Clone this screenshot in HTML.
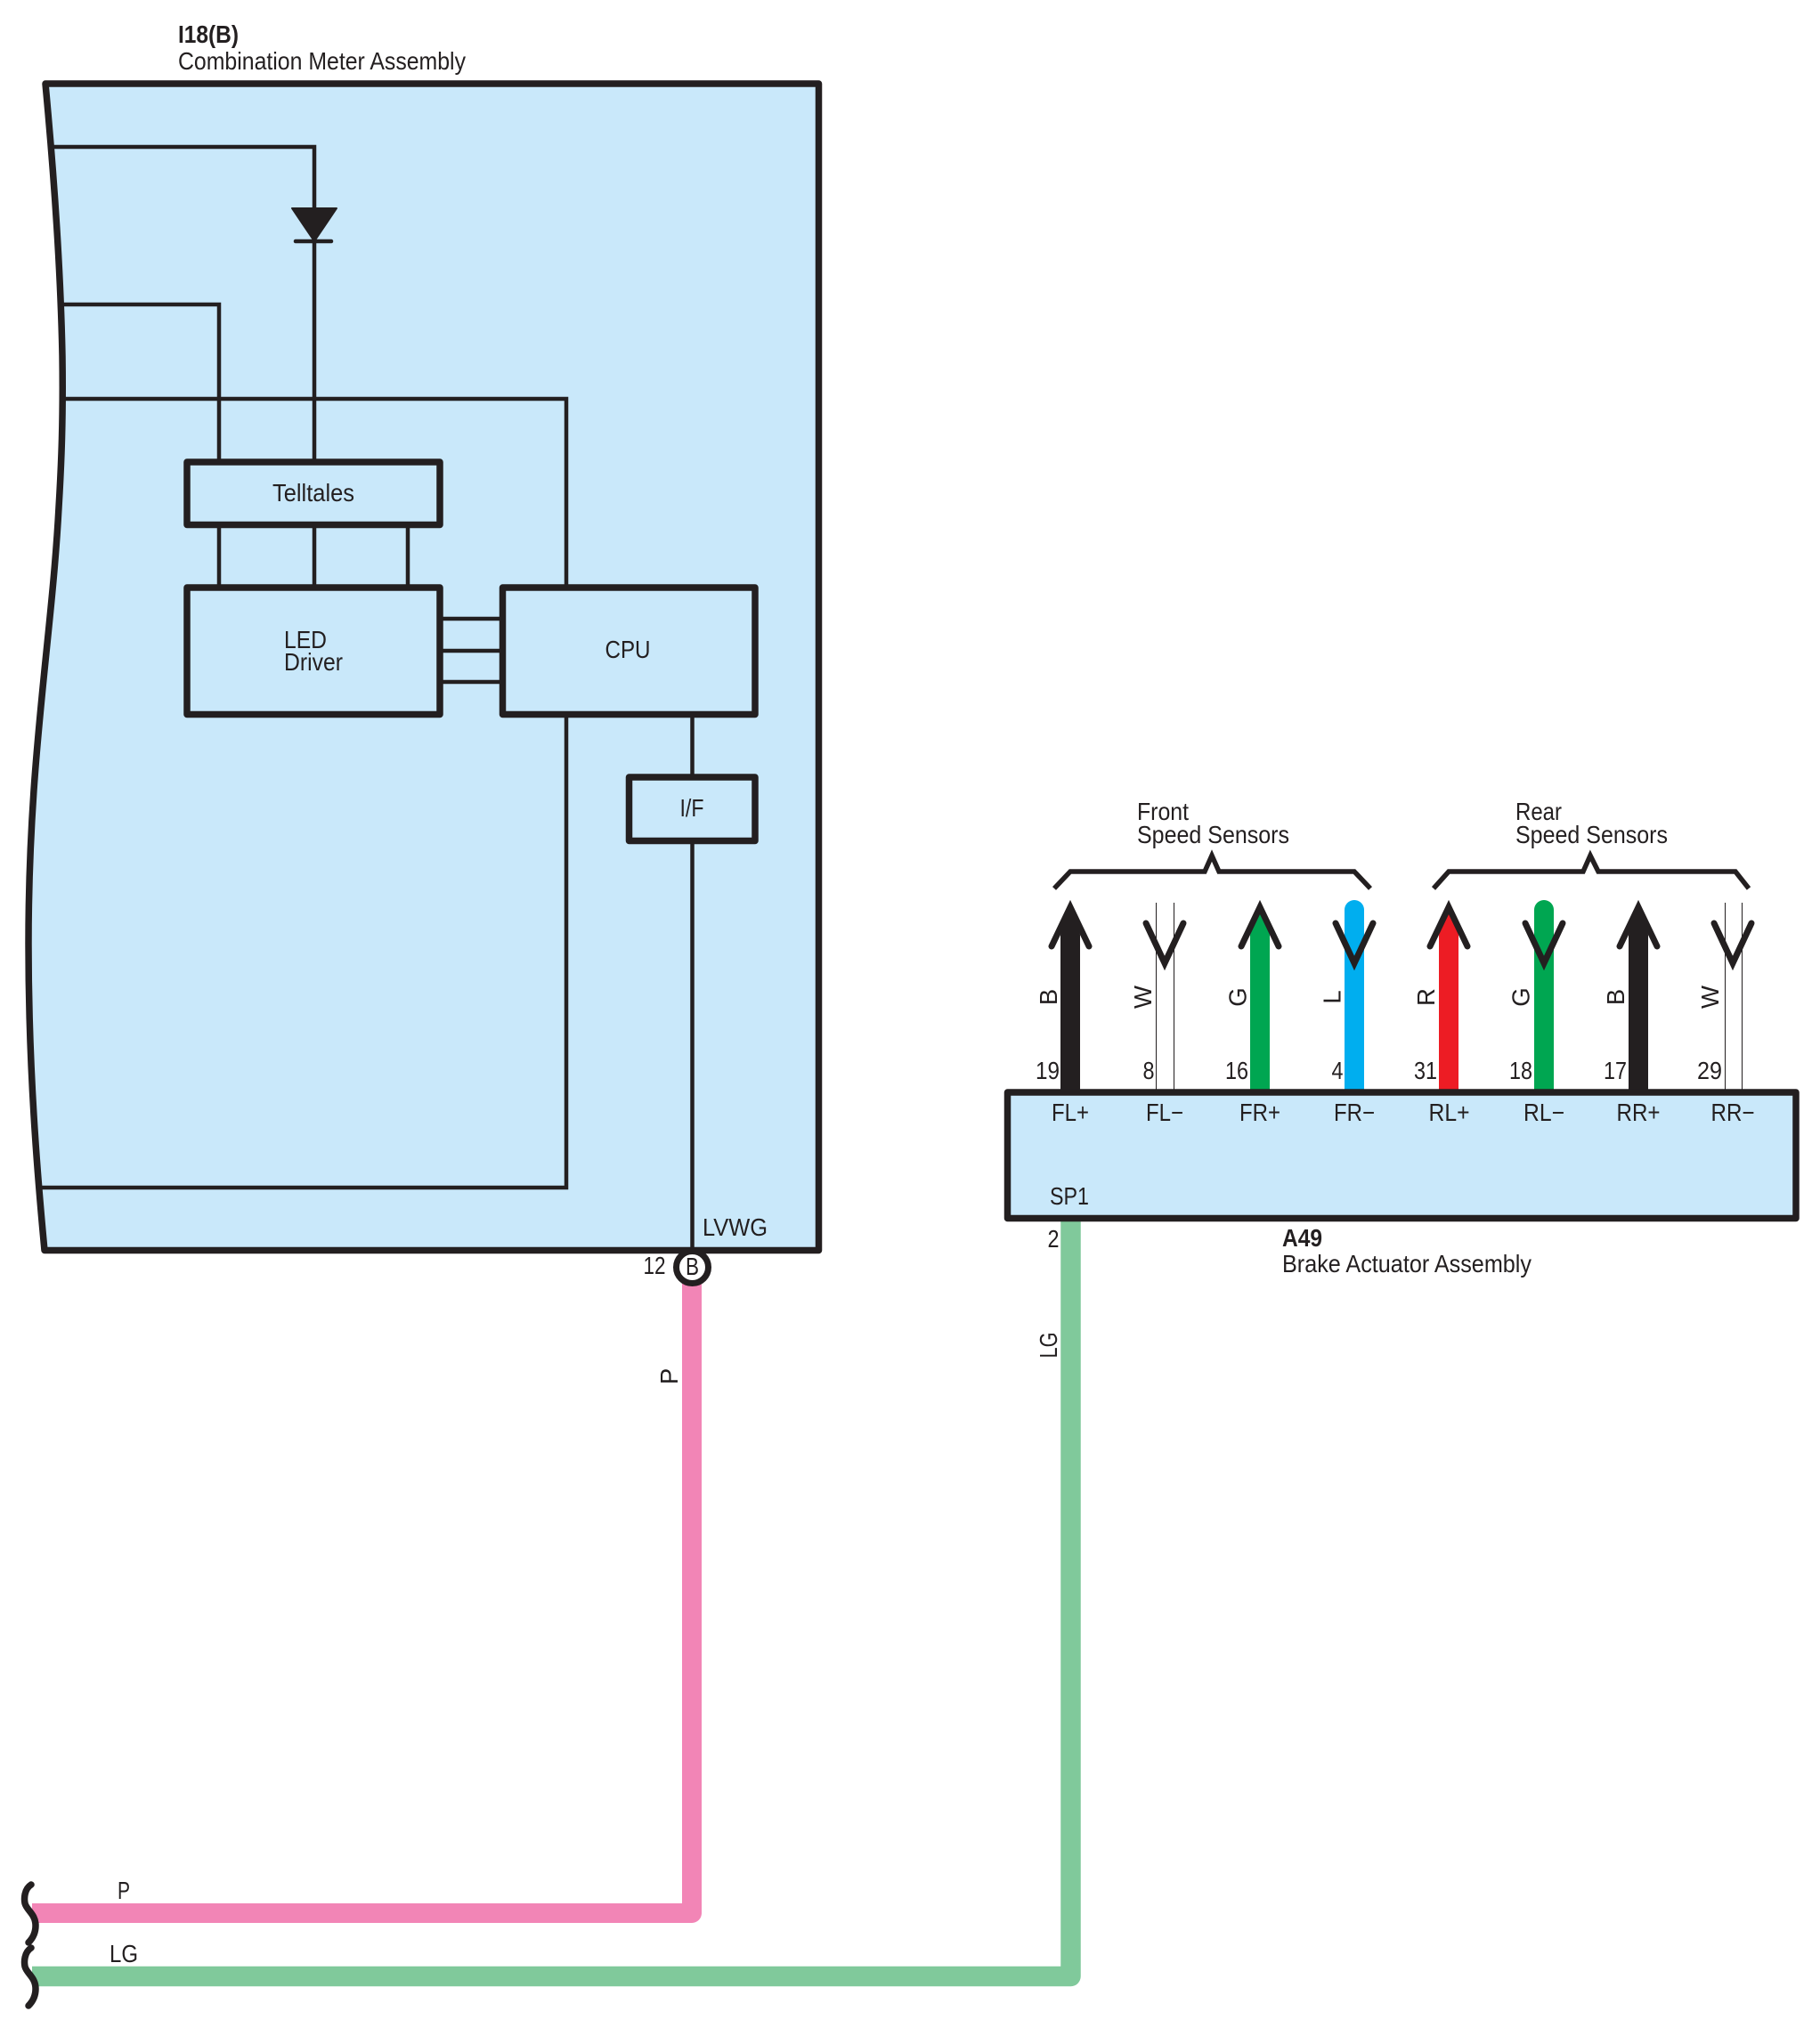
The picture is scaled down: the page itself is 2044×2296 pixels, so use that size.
<!DOCTYPE html>
<html>
<head>
<meta charset="utf-8">
<style>
html,body{margin:0;padding:0;background:#fff}
svg{display:block}
text{font-family:"Liberation Sans",sans-serif;font-size:27.5px;fill:#231f20}
.w{fill:none;stroke:#231f20;stroke-width:4.5;stroke-linejoin:miter}
.b{fill:#c9e8fa;stroke:#231f20;stroke-width:7.5;stroke-linejoin:round}
.a{fill:none;stroke:#231f20;stroke-width:7;stroke-linecap:round;stroke-linejoin:miter;stroke-miterlimit:10}
.br{fill:none;stroke:#231f20;stroke-width:5.5;stroke-linejoin:miter;stroke-miterlimit:10}
.m{text-anchor:middle}
</style>
</head>
<body>
<svg width="2044" height="2296" viewBox="0 0 2044 2296" xmlns="http://www.w3.org/2000/svg">
<rect width="2044" height="2296" fill="#fff"/>

<!-- Combination meter -->
<text x="200" y="48" textLength="68" lengthAdjust="spacingAndGlyphs" style="font-weight:bold">I18(B)</text>
<text x="200" y="78" textLength="323" lengthAdjust="spacingAndGlyphs">Combination Meter Assembly</text>
<path d="M51,94 L919.5,94 L919.5,1404.5 L50,1404.5 C42,1320 32,1200 32,1060 C32,850 58,720 66,570 C69,520 71,470 70,400 C68,300 60,190 51,94 Z" fill="#c9e8fa" stroke="#231f20" stroke-width="7.5" stroke-linejoin="round"/>

<polyline class="w" points="60,165 353,165 353,519"/>
<polyline class="w" points="69,342 246,342 246,519"/>
<polyline class="w" points="70,448 636,448 636,660"/>
<polygon points="328,234 378,234 353,271" fill="#231f20" stroke="#231f20" stroke-width="2" stroke-linejoin="round"/>
<line x1="332" y1="271" x2="372" y2="271" stroke="#231f20" stroke-width="4.5" stroke-linecap="round"/>

<line class="w" x1="246" y1="590" x2="246" y2="660"/>
<line class="w" x1="353" y1="590" x2="353" y2="660"/>
<line class="w" x1="458" y1="590" x2="458" y2="660"/>
<line class="w" x1="494" y1="695" x2="564" y2="695"/>
<line class="w" x1="494" y1="731" x2="564" y2="731"/>
<line class="w" x1="494" y1="766" x2="564" y2="766"/>
<polyline class="w" points="636,802 636,1334 46,1334"/>
<line class="w" x1="777.5" y1="802" x2="777.5" y2="873"/>
<line class="w" x1="777.5" y1="945" x2="777.5" y2="1405"/>

<rect class="b" x="210" y="519" width="284" height="70.5"/>
<rect class="b" x="210" y="660" width="284" height="142.5"/>
<rect class="b" x="564.5" y="660" width="283.5" height="142.5"/>
<rect class="b" x="706.5" y="873" width="141.5" height="71.5"/>

<text x="306" y="563" textLength="92" lengthAdjust="spacingAndGlyphs">Telltales</text>
<text x="319" y="728" textLength="48" lengthAdjust="spacingAndGlyphs">LED</text>
<text x="319" y="753" textLength="66" lengthAdjust="spacingAndGlyphs">Driver</text>
<text x="679.5" y="739" textLength="51" lengthAdjust="spacingAndGlyphs">CPU</text>
<text x="763.5" y="917" textLength="27" lengthAdjust="spacingAndGlyphs">I/F</text>
<text x="789" y="1388" textLength="73" lengthAdjust="spacingAndGlyphs">LVWG</text>
<text x="722.5" y="1431" textLength="25" lengthAdjust="spacingAndGlyphs">12</text>

<!-- Harness wires -->
<path d="M36,2149 L777,2149 L777,1440" fill="none" stroke="#f285b6" stroke-width="22" stroke-linejoin="round"/>
<path d="M36,2220 L1202.5,2220 L1202.5,1368" fill="none" stroke="#80c99b" stroke-width="22.5" stroke-linejoin="round"/>
<circle cx="777.5" cy="1423.5" r="18" fill="#fff" stroke="#231f20" stroke-width="7"/>
<text x="777.5" y="1432" class="m" textLength="15" lengthAdjust="spacingAndGlyphs">B</text>

<text x="132" y="2133" textLength="14" lengthAdjust="spacingAndGlyphs">P</text>
<text x="123" y="2204" textLength="32" lengthAdjust="spacingAndGlyphs">LG</text>
<path d="M35,2117 C27,2122 27,2133 28,2138 C30,2146 40,2150 40,2163 C40,2172 36,2178 32,2182" fill="none" stroke="#231f20" stroke-width="7.5" stroke-linecap="round"/>
<path d="M35,2188 C27,2193 27,2204 28,2209 C30,2217 40,2221 40,2234 C40,2243 36,2249 32,2253" fill="none" stroke="#231f20" stroke-width="7.5" stroke-linecap="round"/>
<text transform="translate(761,1546) rotate(-90)" class="m">P</text>
<text transform="translate(1187,1511) rotate(-90)" class="m" textLength="29" lengthAdjust="spacingAndGlyphs">LG</text>

<!-- Sensor wires -->
<polygon points="1191,1228 1191,1050 1202,1019 1213,1050 1213,1228" fill="#231f20"/>
<polygon points="1404,1228 1404,1050 1415,1019 1426,1050 1426,1228" fill="#00a651"/>
<path d="M1521,1022 L1521,1228" stroke="#00aeef" stroke-width="22" stroke-linecap="round" fill="none"/>
<polygon points="1616,1228 1616,1050 1627,1019 1638,1050 1638,1228" fill="#ed1c24"/>
<path d="M1734,1022 L1734,1228" stroke="#00a651" stroke-width="22" stroke-linecap="round" fill="none"/>
<polygon points="1829,1228 1829,1050 1840,1019 1851,1050 1851,1228" fill="#231f20"/>
<line x1="1298.5" y1="1014" x2="1298.5" y2="1226" stroke="#231f20" stroke-width="1"/>
<line x1="1318.5" y1="1014" x2="1318.5" y2="1226" stroke="#231f20" stroke-width="1"/>
<line x1="1937.5" y1="1014" x2="1937.5" y2="1226" stroke="#231f20" stroke-width="1"/>
<line x1="1956.5" y1="1014" x2="1956.5" y2="1226" stroke="#231f20" stroke-width="1"/>

<!-- Arrowheads -->
<polyline class="a" points="1181,1063 1202,1019 1223,1063"/>
<polyline class="a" points="1394,1063 1415,1019 1436,1063"/>
<polyline class="a" points="1606,1063 1627,1019 1648,1063"/>
<polyline class="a" points="1819,1063 1840,1019 1861,1063"/>
<polyline class="a" points="1287,1037 1308,1082 1329,1037"/>
<polyline class="a" points="1500,1037 1521,1082 1542,1037"/>
<polyline class="a" points="1713,1037 1734,1082 1755,1037"/>
<polyline class="a" points="1925,1037 1946,1082 1967,1037"/>

<!-- Brackets -->
<polyline class="br" points="1184,998 1202,979 1353,979 1361,961 1369,979 1521,979 1539,998"/>
<polyline class="br" points="1610,998 1627,979 1778,979 1786,961 1795,979 1949,979 1964,998"/>
<text x="1277" y="921" textLength="58" lengthAdjust="spacingAndGlyphs">Front</text>
<text x="1277" y="947" textLength="171" lengthAdjust="spacingAndGlyphs">Speed Sensors</text>
<text x="1702" y="921" textLength="52" lengthAdjust="spacingAndGlyphs">Rear</text>
<text x="1702" y="947" textLength="171" lengthAdjust="spacingAndGlyphs">Speed Sensors</text>

<!-- Wire colour labels -->
<text transform="translate(1187,1120) rotate(-90)" class="m">B</text>
<text transform="translate(1293,1120) rotate(-90)" class="m">W</text>
<text transform="translate(1399.5,1120) rotate(-90)" class="m">G</text>
<text transform="translate(1505.5,1120) rotate(-90)" class="m">L</text>
<text transform="translate(1611,1120) rotate(-90)" class="m">R</text>
<text transform="translate(1717.5,1120) rotate(-90)" class="m">G</text>
<text transform="translate(1824,1120) rotate(-90)" class="m">B</text>
<text transform="translate(1930,1120) rotate(-90)" class="m">W</text>

<!-- Pin numbers -->
<text x="1163" y="1212" textLength="27" lengthAdjust="spacingAndGlyphs">19</text>
<text x="1283.5" y="1212" textLength="13" lengthAdjust="spacingAndGlyphs">8</text>
<text x="1376" y="1212" textLength="26" lengthAdjust="spacingAndGlyphs">16</text>
<text x="1495.5" y="1212" textLength="13" lengthAdjust="spacingAndGlyphs">4</text>
<text x="1588" y="1212" textLength="26" lengthAdjust="spacingAndGlyphs">31</text>
<text x="1695" y="1212" textLength="26" lengthAdjust="spacingAndGlyphs">18</text>
<text x="1801" y="1212" textLength="26" lengthAdjust="spacingAndGlyphs">17</text>
<text x="1906" y="1212" textLength="28" lengthAdjust="spacingAndGlyphs">29</text>

<!-- Brake actuator -->
<rect class="b" x="1131.5" y="1227" width="885.5" height="141.5"/>
<text x="1202" y="1259" class="m" textLength="42" lengthAdjust="spacingAndGlyphs">FL+</text>
<text x="1308" y="1259" class="m" textLength="42" lengthAdjust="spacingAndGlyphs">FL−</text>
<text x="1415" y="1259" class="m" textLength="46" lengthAdjust="spacingAndGlyphs">FR+</text>
<text x="1521" y="1259" class="m" textLength="46" lengthAdjust="spacingAndGlyphs">FR−</text>
<text x="1627.5" y="1259" class="m" textLength="46" lengthAdjust="spacingAndGlyphs">RL+</text>
<text x="1734" y="1259" class="m" textLength="46" lengthAdjust="spacingAndGlyphs">RL−</text>
<text x="1840" y="1259" class="m" textLength="49" lengthAdjust="spacingAndGlyphs">RR+</text>
<text x="1946" y="1259" class="m" textLength="49" lengthAdjust="spacingAndGlyphs">RR−</text>
<text x="1201" y="1353" class="m" textLength="44" lengthAdjust="spacingAndGlyphs">SP1</text>
<text x="1176.5" y="1401" textLength="13" lengthAdjust="spacingAndGlyphs">2</text>
<text x="1440" y="1400" textLength="45" lengthAdjust="spacingAndGlyphs" style="font-weight:bold">A49</text>
<text x="1440" y="1429" textLength="280" lengthAdjust="spacingAndGlyphs">Brake Actuator Assembly</text>
</svg>
</body>
</html>
